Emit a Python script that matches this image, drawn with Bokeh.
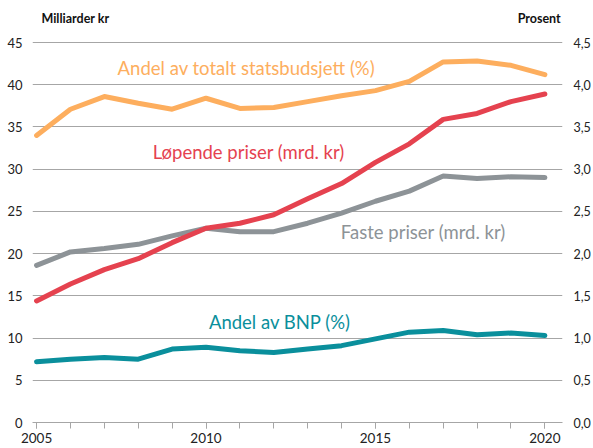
from bokeh.plotting import figure
from bokeh.layouts import column
from bokeh.models import (Range1d, LinearAxis, FixedTicker, CustomJSTickFormatter, Label)
from bokeh.embed import file_html
from bokeh.resources import INLINE

years = list(range(2005, 2021))
lopende_priser = [14.4, 16.4, 18.1, 19.4, 21.3, 23.0, 23.6, 24.6, 26.5, 28.3, 30.8, 33.0, 35.9, 36.6, 38.0, 38.9]
faste_priser = [18.6, 20.2, 20.6, 21.1, 22.1, 23.0, 22.6, 22.6, 23.6, 24.8, 26.2, 27.4, 29.2, 28.9, 29.1, 29.0]
andel_statsbudsjett = [3.40, 3.71, 3.86, 3.78, 3.71, 3.84, 3.72, 3.73, 3.80, 3.87, 3.93, 4.04, 4.27, 4.28, 4.23, 4.12]
andel_bnp = [0.72, 0.75, 0.77, 0.75, 0.87, 0.89, 0.85, 0.83, 0.87, 0.91, 0.99, 1.07, 1.09, 1.04, 1.06, 1.03]

left_ticks = [0, 5, 10, 15, 20, 25, 30, 35, 40, 45]
right_ticks = [0, 0.5, 1.0, 1.5, 2.0, 2.5, 3.0, 3.5, 4.0, 4.5]
x_label_ticks = [2005, 2010, 2015, 2020]

ORANGE = "#FDAE5E"
RED = "#E5424F"
GREY = "#8D9397"
TEAL = "#0A8F9C"
GRID = "#A6A6A6"
FONT = "Lato"
TICK_COLOR = "#222222"

W = 593

# header with the two axis titles
h = figure(width=W, height=30, output_backend="svg", toolbar_location=None,
           x_range=Range1d(0, W), y_range=Range1d(0, 30),
           min_border_left=0, min_border_right=0, min_border_top=0, min_border_bottom=0)
h.axis.visible = False
h.grid.visible = False
h.outline_line_color = None
h.add_layout(Label(x=10, y=12, text="Milliarder kr", text_align="left", text_baseline="middle",
                   text_font=FONT, text_font_size="12.5px", text_font_style="bold", text_color="#111111"))
h.add_layout(Label(x=591, y=12, text="Prosent", text_align="right", text_baseline="middle",
                   text_font=FONT, text_font_size="12.5px", text_font_style="bold", text_color="#111111"))

p = figure(width=W, height=418, output_backend="svg", toolbar_location=None,
           x_range=Range1d(2004.88, 2020.52), y_range=Range1d(0, 45.12),
           min_border_left=32, min_border_right=31, min_border_top=11, min_border_bottom=26)
p.extra_y_ranges = {"pct": Range1d(0, 4.512)}
p.outline_line_color = None

# x axis
p.xaxis.ticker = FixedTicker(ticks=x_label_ticks, minor_ticks=years)
p.xaxis.axis_line_color = GRID
p.xaxis.major_tick_line_color = GRID
p.xaxis.minor_tick_line_color = GRID
p.xaxis.major_tick_in = 0
p.xaxis.major_tick_out = 6
p.xaxis.minor_tick_in = 0
p.xaxis.minor_tick_out = 6
p.xaxis.major_label_standoff = 4
p.xaxis.major_label_text_font = FONT
p.xaxis.major_label_text_font_size = "13.5px"
p.xaxis.major_label_text_color = TICK_COLOR

# left axis
p.yaxis.ticker = FixedTicker(ticks=left_ticks)
p.yaxis.axis_line_color = None
p.yaxis.major_tick_line_color = None
p.yaxis.minor_tick_line_color = None
p.yaxis.major_tick_in = 0
p.yaxis.major_tick_out = 0
p.yaxis.minor_tick_in = 0
p.yaxis.minor_tick_out = 0
p.yaxis.major_label_standoff = 10
p.yaxis.major_label_text_font = FONT
p.yaxis.major_label_text_font_size = "13px"
p.yaxis.major_label_text_color = TICK_COLOR

# right axis (percent)
ry = LinearAxis(y_range_name="pct", ticker=FixedTicker(ticks=right_ticks),
                formatter=CustomJSTickFormatter(code="return tick.toFixed(1).replace('.', ',');"))
ry.axis_line_color = None
ry.major_tick_line_color = None
ry.minor_tick_line_color = None
ry.major_tick_in = 0
ry.major_tick_out = 0
ry.minor_tick_in = 0
ry.minor_tick_out = 0
ry.major_label_standoff = 11
ry.major_label_text_font = FONT
ry.major_label_text_font_size = "12.5px"
ry.major_label_text_color = TICK_COLOR
p.add_layout(ry, "right")

p.xgrid.grid_line_color = None
p.ygrid.ticker = FixedTicker(ticks=left_ticks)
p.ygrid.grid_line_color = GRID
p.ygrid.grid_line_width = 1

# lines
p.line(years, faste_priser, line_color=GREY, line_width=5, line_cap="round", line_join="round")
p.line(years, lopende_priser, line_color=RED, line_width=5, line_cap="round", line_join="round")
p.line(years, andel_statsbudsjett, y_range_name="pct", line_color=ORANGE, line_width=5,
       line_cap="round", line_join="round")
p.line(years, andel_bnp, y_range_name="pct", line_color=TEAL, line_width=5,
       line_cap="round", line_join="round")

# series labels
def add_label(x, y, text, color):
    p.add_layout(Label(x=x, y=y, text=text, text_color=color, text_align="center",
                       text_baseline="middle", text_font=FONT, text_font_size="18.5px"))

add_label(2011.19, 42.0, "Andel av totalt statsbudsjett (%)", ORANGE)
add_label(2011.26, 32.0, "Løpende priser (mrd. kr)", RED)
add_label(2016.41, 22.6, "Faste priser (mrd. kr)", GREY)
add_label(2012.18, 11.96, "Andel av BNP (%)", TEAL)

layout = column(h, p, spacing=0)
open("out.html", "w").write(file_html(layout, INLINE))
